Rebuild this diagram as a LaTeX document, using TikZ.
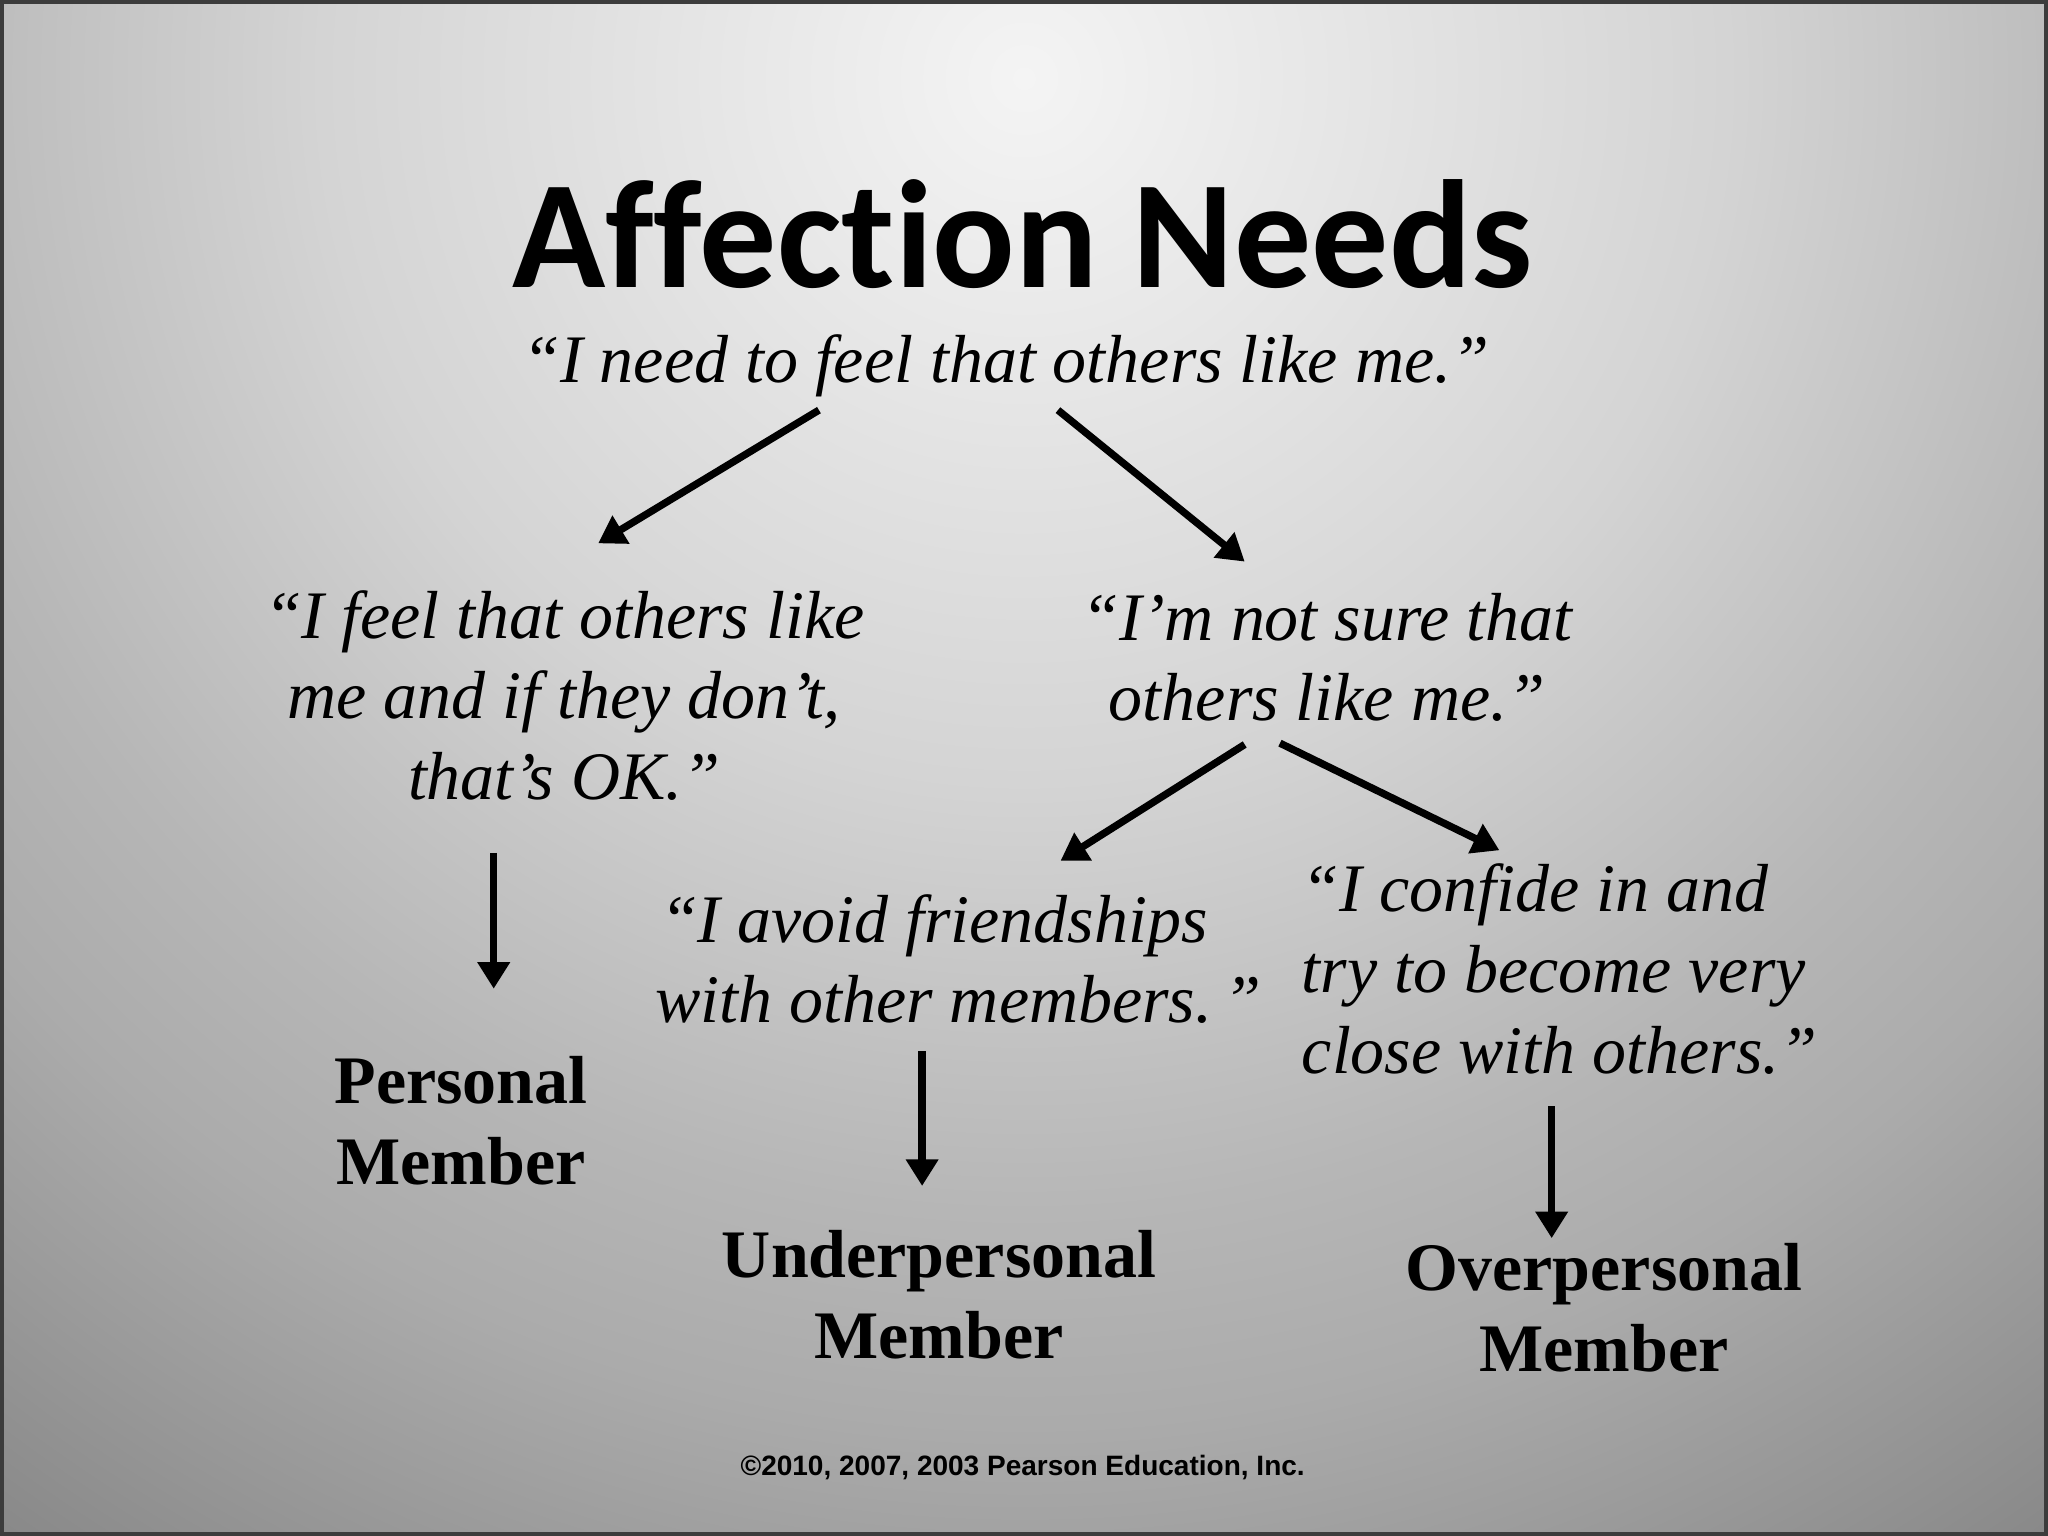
\documentclass[tikz,border=0pt]{standalone}
\usepackage{fontspec}
\setmainfont{Liberation Serif}
\newfontfamily\titlefont{Carlito}[Ligatures={NoCommon,NoContextual}]
\newfontfamily\copyfont{Liberation Sans}
\usetikzlibrary{arrows.meta,calc}
\definecolor{bgA}{HTML}{F4F4F4}
\definecolor{bgB}{HTML}{E6E6E6}
\definecolor{bgC}{HTML}{D4D4D4}
\definecolor{bgD}{HTML}{B6B6B6}
\definecolor{bgE}{HTML}{ABABAB}
\definecolor{bgF}{HTML}{888888}
\definecolor{frame}{HTML}{3C3C3C}
\pgfdeclareradialshading{bgshade}{\pgfpointorigin}{color(0bp)=(bgA); color(4.3bp)=(bgB); color(9.6bp)=(bgC); color(15.5bp)=(bgD); color(18.4bp)=(bgE); color(24.4bp)=(bgF); color(25bp)=(bgF); color(50bp)=(bgF)}
\tikzset{
  qtext/.style={inner sep=0pt, align=center, anchor=base, font=\itshape\fontsize{14.8pt}{17.5pt}\selectfont},
  blabel/.style={inner sep=0pt, align=center, anchor=base, font=\bfseries\fontsize{14.8pt}{17.6pt}\selectfont},
  arr/.style={line width=1.6pt, -{Triangle[length=5.8pt,width=6.8pt]}}
}
\begin{document}
\begin{tikzpicture}[x=0.01cm,y=-0.01cm]
\useasboundingbox (0,0) rectangle (1568,1176);
\begin{scope}
  \clip (0,0) rectangle (1568,1176);
  \shade[shading=bgshade] (784,60) circle (14cm);
\end{scope}
\draw[frame, line width=0.8pt] (1.4,1.4) rectangle (1566.6,1174.6);

\node[inner sep=0pt, anchor=base, font=\titlefont\bfseries\fontsize{33.5pt}{40pt}\selectfont] (title) at (783,220) {Affection Needs};
\node[qtext] (sub) at (770,293) {“I need to feel that others like me.”};
\node[qtext] (lq) at (432,612) {“I feel that others like\\ me and if they don’t,\\ that’s OK.”};
\node[qtext] (rq) at (1016,552) {“I’m not sure that\\ others like me.”};
\node[qtext] (mq) at (715,783) {“I avoid friendships\\ with other members.\rlap{\,”}};
\node[qtext, align=left, anchor=base west, font=\itshape\fontsize{14.8pt}{17.7pt}\selectfont] (oq) at (996,822) {“I confide in and\\ try to become very\\ close with others.”};
\node[blabel] (pm) at (353,907) {Personal\\ Member};
\node[blabel] (um) at (719,1040) {Underpersonal\\ Member};
\node[blabel] (om) at (1228,1050) {Overpersonal\\ Member};
\node[inner sep=0pt, anchor=base, font=\copyfont\bfseries\fontsize{6.1pt}{7pt}\selectfont] (copy) at (783,1130) {©2010, 2007, 2003 Pearson Education, Inc.};

\draw[arr] ($(sub.base)+(-143,21)$) -- ($(lq.base)+(26,-196)$);
\draw[arr] ($(sub.base)+(40,21)$) -- ($(rq.base)+(-63,-122)$);
\draw[arr] ($(rq.base)+(-63,18)$) -- ($(mq.base)+(97,-124)$);
\draw[arr] ($(rq.base)+(-36,17)$) -- ($(oq.base west)+(152,-171)$);
\draw[arr] ($(lq.base)+(-54,41)$) -- ($(pm.base)+(25,-150)$);
\draw[arr] ($(mq.base)+(-9,22)$) -- ($(um.base)+(-13,-132)$);
\draw[arr] ($(oq.base west)+(192,25)$) -- ($(om.base)+(-40,-102)$);
\end{tikzpicture}
\end{document}
